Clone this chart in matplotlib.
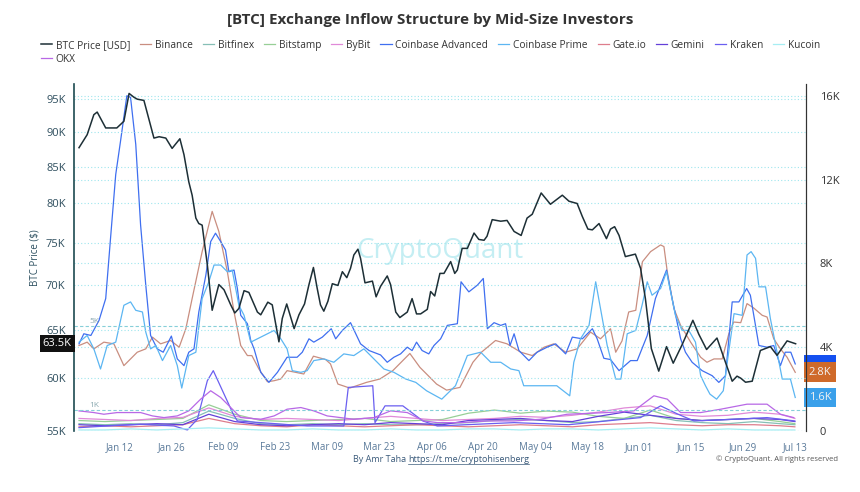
import numpy as np
import pandas as pd
import matplotlib
matplotlib.use("Agg")
import matplotlib.pyplot as plt
from matplotlib.lines import Line2D
from matplotlib.patches import Rectangle
from matplotlib.ticker import FixedLocator, FuncFormatter, NullLocator

plt.rcParams["font.family"] = ["Open Sans", "DejaVu Sans"]

BASE = pd.Timestamp("2025-01-01")

# ---- data (days since Jan 1) ----
btc_days = [0, 2.2, 4.0, 4.9, 7.2, 10.2, 12.1, 13.5, 14.8, 15.7, 17.5, 20.2, 21.6, 23.4, 25.1, 27.2,
            28.3, 29.6, 30.5, 31.5, 32.3, 33.2, 34.6, 35.9, 37.7, 39.1, 40.9, 42.0, 43.1, 44.5, 45.8,
            48.1, 49.0, 50.9, 52.1, 53.9, 54.8, 56.0, 58.0, 59.3, 60.8, 62.0, 63.2, 64.2, 65.1, 66.0,
            67.1, 68.3, 69.8, 71.0, 72.2, 73.2, 74.1, 75.2, 75.9, 77.1, 79.1, 80.1, 81.3, 83.1, 84.0,
            85.4, 86.5, 88.5, 89.8, 91.0, 92.1, 93.9, 94.8, 95.9, 97.3, 98.4, 100.2, 101.3, 102.0,
            103.3, 104.7, 106.5, 107.8, 109.2, 110.0, 111.4, 113.7, 115.4, 117.3, 119.2, 120.8, 122.2,
            124.6, 127.1, 130.3, 132.1, 134.3, 135.7, 137.2, 138.4, 140.2, 142.2, 143.3, 144.4, 145.6,
            147.3, 150.0, 151.4, 152.7, 154.3, 156.3, 158.4, 160.2, 162.6, 165.5, 167.1, 169.2, 172.0,
            173.9, 176.1, 177.4, 178.4, 179.7, 181.5, 183.7, 186.4, 188.2, 190.9, 193.2]
btc_price = [87.7, 89.6, 92.6, 93.0, 90.6, 90.6, 91.6, 95.9, 95.3, 95.0, 94.8, 89.1, 89.3, 89.1, 87.6, 89.0,
             86.7, 82.9, 81.1, 78.1, 77.4, 77.2, 72.3, 67.1, 70.0, 69.4, 67.7, 66.8, 67.3, 69.3, 69.1,
             66.9, 66.6, 68.0, 67.7, 63.7, 66.2, 67.8, 65.1, 66.6, 67.8, 70.0, 72.0, 69.6, 67.7, 67.0,
             68.1, 70.1, 69.9, 71.5, 70.8, 71.9, 73.5, 74.2, 73.1, 70.2, 70.4, 68.6, 69.8, 71.0, 70.0,
             66.9, 66.3, 66.9, 68.4, 66.7, 66.7, 67.2, 69.2, 68.7, 71.3, 71.3, 72.7, 71.3, 71.7,
             74.3, 74.3, 76.2, 75.4, 75.3, 75.8, 77.9, 77.7, 77.8, 76.4, 75.9, 78.1, 78.6,
             81.4, 79.9, 81.1, 80.3, 80.0, 78.3, 76.7, 76.6, 77.4, 75.5, 76.7, 77.0, 75.9,
             73.3, 73.6, 71.9, 68.4, 63.0, 60.7, 63.2, 61.5, 63.4, 66.0, 64.5, 62.9, 64.1,
             62.0, 59.7, 60.2, 60.0, 59.6, 59.7, 62.8, 63.2, 62.3, 63.8, 63.5]

binance_days = [0, 2.2, 4.0, 6.7, 9.4, 12.1, 15.7, 18.0, 19.8, 22.0, 24.7, 27.0, 28.8, 30.5, 33.2, 35.9,
                37.7, 40.0, 41.8, 43.6, 45.4, 46.6, 48.5, 50.8, 52.6, 54.4, 56.1, 58.4, 60.6, 63.2, 66.5,
                67.8, 69.8, 73.0, 77.5, 81.1, 84.6, 89.2, 91.9, 96.4, 99.1, 102.7, 106.2, 108.5, 112.3,
                115.4, 119.1, 122.2, 125.4, 128.0, 131.2, 134.3, 137.9, 140.6, 143.3, 144.7, 146.4, 148.2,
                150.1, 151.9, 154.1, 156.8, 157.7, 158.6, 160.4, 162.2, 164.9, 167.6, 169.3, 171.2, 173.4,
                175.2, 176.5, 178.4, 180.1, 181.9, 184.2, 185.5, 187.3, 189.1, 190.9, 193.1]
binance = [4.08, 4.24, 3.92, 4.24, 4.16, 3.12, 3.76, 3.92, 4.48, 4.16, 4.32, 4.0, 4.88, 6.32, 8.56, 10.48,
           9.52, 7.6, 5.68, 4.08, 3.6, 3.6, 2.96, 2.35, 2.4, 2.48, 2.88, 2.8, 2.72, 3.57, 3.41,
           3.2, 2.24, 2.05, 2.32, 2.48, 2.88, 3.7, 3.04, 2.24, 1.95, 2.08, 3.28, 3.76, 4.32,
           4.16, 3.76, 3.6, 4.0, 4.16, 3.76, 3.92, 4.72, 4.4, 4.88, 3.76, 4.3, 5.68,
           5.76, 8.08, 8.56, 8.88, 8.8, 7.6, 5.84, 5.04, 4.24, 3.52, 3.28, 3.44, 3.44,
           4.64, 5.2, 5.17, 6.08, 5.87, 5.52, 5.44, 4.4, 3.92, 3.52, 2.8]

cb_adv_days = [0, 1.3, 3.2, 5.4, 7.2, 8.5, 9.9, 11.2, 12.9, 13.9, 15.3, 16.6, 18.0, 19.3, 21.1, 22.7,
               24.9, 26.5, 28.3, 29.6, 31.0, 32.3, 34.2, 35.5, 36.8, 38.2, 39.5, 40.4, 41.8, 42.7, 43.6,
               45.4, 46.3, 47.2, 49.0, 51.2, 53.5, 56.1, 58.8, 60.2, 62.0, 63.3, 65.6, 68.0, 69.2, 71.0,
               73.2, 75.9, 78.2, 81.3, 83.1, 84.9, 86.7, 88.5, 89.8, 91.0, 92.5, 94.3, 95.7, 97.5, 99.3,
               102.0, 103.0, 105.1, 107.4, 109.0, 110.1, 111.9, 113.7, 115.0, 116.2, 117.3, 118.6, 121.3,
               123.5, 126.2, 128.5, 131.2, 133.0, 135.7, 138.4, 139.7, 141.5, 143.3, 145.6, 148.7, 150.5,
               153.2, 155.4, 158.4, 159.9, 162.2, 163.5, 165.3, 168.0, 170.7, 172.5, 174.3, 176.1, 177.9,
               180.0, 181.0, 183.3, 185.5, 187.3, 189.1, 190.4, 191.9, 193.1]
cb_adv = [4.16, 4.64, 4.56, 5.28, 6.32, 9.2, 12.24, 13.84, 16.0, 15.92, 13.68, 9.84, 6.96, 4.56, 3.92, 3.76,
          4.53, 3.44, 3.12, 3.76, 3.92, 5.68, 7.44, 9.04, 9.44, 9.04, 8.64, 7.6, 7.68, 6.8, 5.52,
          5.12, 4.32, 3.92, 2.8, 2.32, 2.8, 3.52, 3.52, 3.76, 4.4, 4.24, 4.48, 4.88, 4.4, 4.8,
          5.17, 4.16, 3.84, 3.63, 3.28, 3.52, 3.68, 4.0, 3.84, 4.24, 3.84, 3.68, 4.08, 4.4, 5.04,
          5.12, 7.12, 6.64, 6.96, 7.28, 4.88, 5.17, 5.04, 5.12, 4.08, 4.64, 3.84, 3.36,
          3.76, 4.0, 4.16, 3.68, 4.48, 4.4, 4.88, 4.4, 3.47, 3.41, 2.88, 3.36, 3.36,
          4.56, 6.32, 7.68, 6.32, 4.4, 3.76, 3.28, 2.88, 2.64, 2.32, 2.64, 6.16, 6.16,
          6.8, 6.48, 4.08, 4.0, 4.08, 3.12, 3.76, 3.76, 3.2]

cb_prime_days = [0, 2.2, 4.0, 5.8, 7.6, 9.9, 12.1, 13.9, 15.3, 17.1, 18.0, 19.3, 20.7, 22.5, 24.7, 26.5,
                 27.7, 29.6, 31.5, 33.2, 35.0, 36.4, 38.2, 40.0, 41.3, 43.1, 44.5, 46.3, 48.1, 49.9, 52.6,
                 54.4, 56.1, 57.5, 59.8, 61.5, 63.3, 66.0, 68.7, 71.4, 74.1, 76.8, 79.5, 82.2, 84.9, 88.1,
                 90.8, 93.7, 97.8, 101.5, 104.7, 108.3, 111.0, 113.7, 116.4, 118.6, 119.9, 124.3, 128.8,
                 132.3, 133.4, 135.2, 137.5, 139.3, 140.6, 142.4, 144.7, 146.1, 147.8, 150.1, 151.8, 153.2,
                 154.5, 156.8, 158.4, 160.8, 162.6, 164.4, 166.2, 167.6, 168.9, 170.1, 171.9, 173.7, 176.6,
                 178.8, 180.1, 181.2, 182.4, 183.3, 185.1, 186.4, 188.2, 189.6, 191.8, 193.1]
cb_prime = [4.24, 4.56, 3.92, 2.96, 4.08, 4.24, 6.0, 6.16, 5.76, 5.68, 4.72, 3.92, 4.08, 3.36, 4.08, 3.12,
            2.05, 3.6, 3.76, 6.32, 7.12, 7.92, 7.92, 7.6, 7.68, 6.0, 5.52, 4.24, 4.4, 4.56, 4.8,
            4.4, 3.92, 2.88, 2.8, 2.88, 3.36, 3.44, 3.28, 3.68, 3.6, 3.92, 3.44, 2.96, 2.8, 2.48,
            2.32, 1.92, 1.52, 2.16, 3.6, 3.76, 3.28, 3.28, 2.96, 2.88, 2.16, 2.16, 2.16,
            1.68, 3.28, 4.4, 5.04, 7.12, 5.84, 4.08, 2.48, 2.48, 4.64, 4.8, 6.0, 7.12,
            6.48, 6.8, 7.6, 5.52, 4.8, 4.8, 4.24, 2.64, 2.16, 1.76, 1.52, 1.92, 5.6,
            5.52, 8.4, 8.56, 8.24, 6.88, 6.88, 5.36, 3.76, 2.48, 2.48, 1.6]

okx_days = [0, 4.0, 6.7, 10.3, 13.5, 16.6, 19.8, 22.9, 26.5, 29.6, 32.8, 35.5, 38.2, 40.9, 43.6, 49.0,
            52.6, 56.1, 59.8, 63.3, 66.9, 70.5, 74.1, 79.5, 84.0, 88.5, 93.0, 96.6, 102.9, 110.1, 117.3,
            124.4, 131.6, 142.4, 149.6, 155.0, 158.6, 162.2, 167.6, 173.0, 180.1, 185.5, 189.1, 192.7]
okx = [0.96, 0.88, 0.8, 0.88, 0.88, 0.88, 0.72, 0.64, 0.72, 0.96, 1.52, 1.92, 1.6, 1.12, 0.64, 0.56,
       0.72, 1.04, 1.12, 0.96, 0.72, 0.64, 0.56, 0.64, 0.96, 0.88, 0.48, 0.4, 0.4, 0.48, 0.48,
       0.56, 0.8, 0.88, 0.96, 1.68, 1.52, 0.88, 0.88, 1.04, 1.28, 1.28, 0.8, 0.64]

kraken_days = [0, 7.6, 16.6, 25.6, 29.2, 31.9, 34.6, 36.2, 41.6, 42.7, 49.0, 61.5, 71.4, 72.6, 79.2, 79.8,
               82.5, 87.3, 92.7, 96.6, 117.3, 132.0, 151.4, 156.8, 161.5, 165.8, 176.6, 185.5, 193.0]
kraken = [0.16, 0.24, 0.32, 0.24, 0.05, 0.56, 2.4, 2.88, 0.8, 0.48, 0.4, 0.24, 0.24, 2.08, 2.16, 0.4,
          1.2, 1.2, 0.48, 0.24, 0.4, 0.3, 0.64, 1.2, 0.8, 0.48, 0.56, 0.64, 0.48]

minor_days = [0, 7, 14, 21, 28, 35, 42, 49, 56, 63, 70, 77, 84, 91, 98, 105, 112, 119, 126, 133,
              140, 147, 154, 161, 168, 175, 182, 189, 193]
bitfinex = [0.35, 0.3, 0.35, 0.3, 0.4, 0.95, 0.6, 0.35, 0.3, 0.35, 0.3, 0.35, 0.3, 0.3, 0.35, 0.4,
            0.5, 0.55, 0.5, 0.4, 0.45, 0.6, 0.75, 0.5, 0.4, 0.35, 0.45, 0.35, 0.3]
bitstamp = [0.5, 0.45, 0.5, 0.55, 0.6, 1.25, 0.8, 0.5, 0.45, 0.5, 0.55, 0.6, 0.45, 0.5, 0.55, 0.85,
            1.0, 0.85, 0.95, 0.9, 0.7, 0.6, 1.0, 0.6, 0.5, 0.55, 0.6, 0.45, 0.35]
bybit = [0.6, 0.55, 0.5, 0.6, 0.65, 1.1, 0.7, 0.55, 0.6, 0.55, 0.5, 0.6, 0.7, 0.6, 0.5, 0.55,
         0.6, 0.7, 0.65, 0.75, 0.9, 1.1, 1.2, 0.8, 0.7, 0.75, 0.9, 0.8, 0.6]
gateio = [0.2, 0.25, 0.2, 0.25, 0.3, 0.6, 0.35, 0.25, 0.2, 0.3, 0.25, 0.2, 0.25, 0.3, 0.25, 0.2,
          0.25, 0.3, 0.25, 0.2, 0.3, 0.35, 0.4, 0.3, 0.25, 0.3, 0.3, 0.25, 0.2]
gemini = [0.3, 0.25, 0.3, 0.35, 0.3, 0.8, 0.45, 0.3, 0.25, 0.3, 0.35, 0.3, 0.4, 0.35, 0.3, 0.5,
          0.55, 0.6, 0.5, 0.45, 0.7, 0.9, 0.75, 0.6, 0.5, 0.55, 0.6, 0.55, 0.45]
kucoin = [0.05, 0.05, 0.1, 0.05, 0.1, 0.15, 0.1, 0.05, 0.05, 0.1, 0.05, 0.05, 0.1, 0.05, 0.05, 0.1,
          0.1, 0.05, 0.1, 0.1, 0.05, 0.1, 0.15, 0.1, 0.05, 0.1, 0.05, 0.05, 0.05]

tick_dates = pd.date_range("2025-01-12", "2025-07-13", freq="14D")


def to_dates(days):
    return BASE + pd.to_timedelta(np.asarray(days, dtype=float), unit="D")


# series: (label, days, values, color)
exchanges = [
    ("Binance", binance_days, binance, "#c98e80"),
    ("Bitfinex", minor_days, bitfinex, "#86bfb6"),
    ("Bitstamp", minor_days, bitstamp, "#97cf96"),
    ("ByBit", minor_days, bybit, "#e08ad8"),
    ("Coinbase Advanced", cb_adv_days, cb_adv, "#3f6ff0"),
    ("Coinbase Prime", cb_prime_days, cb_prime, "#5cb6f2"),
    ("Gate.io", minor_days, gateio, "#de7d8c"),
    ("Gemini", minor_days, gemini, "#6440d8"),
    ("Kraken", kraken_days, kraken, "#6a5ff0"),
    ("Kucoin", minor_days, kucoin, "#a6eef3"),
    ("OKX", okx_days, okx, "#b868e6"),
]
btc_color = "#1d2f36"

fig = plt.figure(figsize=(8.6, 4.92), dpi=100)
ax = fig.add_axes([74 / 860, 1 - 431 / 492, 732 / 860, 347 / 492])
ax_btc = ax.twinx()

handles = []
for name, days, vals, color in exchanges:
    ln, = ax.plot(to_dates(days), vals, color=color, lw=0.9, label=name)
    handles.append(ln)

bl, = ax_btc.plot(to_dates(btc_days), np.array(btc_price) * 1000, color=btc_color, lw=1.1,
                  label="BTC Price [USD]")
handles.insert(0, bl)

# right axis (exchange inflow)
ax.set_ylim(0, 16.56)
ax.yaxis.tick_right()
ax.yaxis.set_label_position("right")
ax.set_yticks([0, 4, 8, 12, 16])
ax.set_yticklabels(["0", "4K", "8K", "12K", "16K"])
ax.tick_params(axis="y", length=0, labelsize=8, colors="#333333", pad=10)
ax.grid(axis="y", ls=(0, (1, 2)), color="#9fe6ee", lw=0.8)
ax.axhline(5, ls=(0, (3, 2)), color="#86cfd9", lw=0.8)
ax.axhline(1, ls=(0, (3, 2)), color="#86cfd9", lw=0.8)
ax.text(to_dates([2.7])[0], 5.05, "5K", fontsize=6, color="#8aa9b0", va="bottom")
ax.text(to_dates([2.7])[0], 1.05, "1K", fontsize=6, color="#8aa9b0", va="bottom")

# left axis (BTC price, log)
ax_btc.set_yscale("log")
ax_btc.set_ylim(55000, 97400)
ax_btc.yaxis.tick_left()
ax_btc.yaxis.set_label_position("left")
ax_btc.yaxis.set_major_locator(FixedLocator(np.arange(55000, 96000, 5000)))
ax_btc.yaxis.set_minor_locator(NullLocator())
ax_btc.yaxis.set_major_formatter(FuncFormatter(lambda v, p: f"{v / 1000:.0f}K"))
ax_btc.tick_params(axis="y", length=0, labelsize=8, colors="#2f4f5f", pad=6)
ax_btc.set_ylabel("BTC Price ($)", fontsize=7, color="#2d5060", labelpad=4)
ax_btc.grid(axis="y", ls=(0, (1, 2)), color="#9fe6ee", lw=0.8)

ax.set_xlim(to_dates([-1.35])[0], to_dates([196])[0])
ax.set_xticks(tick_dates)
ax.set_xticklabels([d.strftime("%b %d") for d in tick_dates])
ax.tick_params(axis="x", length=0, labelsize=7, colors="#5a7a9a", pad=8)

for a in (ax, ax_btc):
    a.spines["top"].set_visible(False)
    a.spines["bottom"].set_visible(False)
    a.patch.set_visible(False)
ax_btc.spines["left"].set_color("#1d4a50")
ax_btc.spines["left"].set_linewidth(1.2)
ax_btc.spines["right"].set_color("#333333")
ax.spines["left"].set_visible(False)
ax.spines["right"].set_color("#333333")

# watermark
ax.text(0.5, 0.52, "CryptoQuant", transform=ax.transAxes, fontsize=20, color="#c4eef3",
        ha="center", va="center", zorder=0)

# price tags
ax_btc.text(-0.003, 63500, "63.5K", transform=ax_btc.get_yaxis_transform(), ha="right", va="center",
            fontsize=8, color="white", bbox=dict(boxstyle="square,pad=0.25", fc="#111111", ec="none"),
            clip_on=False)
# Coinbase Advanced tag sits almost fully behind the Binance one
half_h = 8.5 / 20.95
adv_tag = Rectangle((1.003, cb_adv[-1] - half_h), 0.04, 2 * half_h, transform=ax.get_yaxis_transform(),
                    fc="#1450f0", ec="none", clip_on=False, zorder=1)
ax.add_patch(adv_tag)
tag_texts = []
for val, color in [(binance[-1], "#cf6a2a"), (cb_prime[-1], "#3aa0ea")]:
    t = ax.text(1.004, val, f"{val:.1f}K", transform=ax.get_yaxis_transform(), ha="left", va="center",
                fontsize=8, color="#f2f2f2", clip_on=False, zorder=5,
                bbox=dict(boxstyle="square,pad=0.4", fc=color, ec="none"))
    tag_texts.append(t)

# title and legend
fig.text(0.5, 1 - 20 / 492, "[BTC] Exchange Inflow Structure by Mid-Size Investors", ha="center",
         va="center", fontsize=11, fontweight="bold", color="#333333")
order = [0, 11] + list(range(1, 11))
fig.legend([handles[i] for i in order], [handles[i].get_label() for i in order], ncol=11,
           loc="upper left", bbox_to_anchor=(41 / 860, 1 - 40 / 492), frameon=False, fontsize=7.3,
           handlelength=1.1, handletextpad=0.35, columnspacing=1.0, labelspacing=0.25,
           borderaxespad=0, borderpad=0, labelcolor="#333333")

# footer
fy = 1 - 459 / 492
t1 = fig.text(0.5, fy, "By Amr Taha ", ha="right", va="center", fontsize=6.5, color="#3a5a7a")
t2 = fig.text(0.5, fy, "https://t.me/cryptohisenberg", ha="left", va="center", fontsize=6.5,
              color="#3a5a7a")
fig.canvas.draw()
r = fig.canvas.get_renderer()

# match the hidden tag's width to the visible Binance tag
bb = tag_texts[0].get_bbox_patch().get_window_extent(r)
ax_bb = ax.get_window_extent(r)
adv_tag.set_x((bb.x0 - ax_bb.x0) / ax_bb.width)
adv_tag.set_width(bb.width / ax_bb.width)

b1 = t1.get_window_extent(r)
b2 = t2.get_window_extent(r)
shift = (441 - (b1.x0 + b2.x1) / 2) / 860
t1.set_x(0.5 + shift)
t2.set_x(0.5 + shift)
x0 = (b2.x0) / 860 + shift
x1 = (b2.x1) / 860 + shift
fig.add_artist(Line2D([x0, x1], [fy - 0.011, fy - 0.011], color="#3a5a7a", lw=0.5))
fig.text(838 / 860, fy, "© CryptoQuant. All rights reserved", ha="right", va="center", fontsize=5.5,
         color="#555555")

fig.savefig("out.png", dpi=100)
